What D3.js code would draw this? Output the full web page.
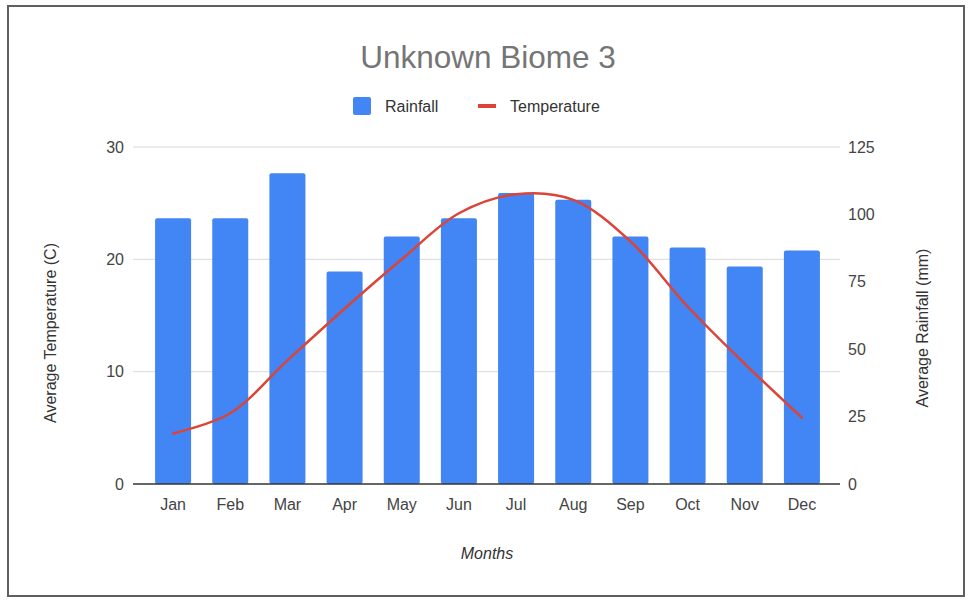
<!DOCTYPE html>
<html>
<head>
<meta charset="utf-8">
<script src="https://cdn.jsdelivr.net/npm/d3@7"></script>
<style>
  body { margin: 0; background: #fff; }
  text { font-family: "Liberation Sans", Arial, sans-serif; }
</style>
</head>
<body>
<div class="container"></div>
<script>
// Data
const months = ['Jan', 'Feb', 'Mar', 'Apr', 'May', 'Jun', 'Jul', 'Aug', 'Sep', 'Oct', 'Nov', 'Dec'];
const rainfall = [98.6, 98.6, 115.3, 78.8, 91.8, 98.6, 107.9, 105.4, 91.8, 87.7, 80.7, 86.6];
const temperature = [4.5, 6.3, 11.0, 15.6, 20.0, 24.1, 25.8, 25.3, 21.6, 15.8, 10.7, 5.9];
const tempTicks = [0, 10, 20, 30];
const rainTicks = [0, 25, 50, 75, 100, 125];

const W = 974, H = 605;
const plot = {left: 133, right: 840, top: 147, bottom: 484};

const svg = d3.select('.container')
  .append('svg')
  .attr('width', W)
  .attr('height', H);

// outer frame
svg.append('rect')
  .attr('x', 8).attr('y', 6)
  .attr('width', 956).attr('height', 590)
  .attr('fill', '#fff')
  .attr('stroke', '#5f5f5f')
  .attr('stroke-width', 2);

// Scales
const x = d3.scaleBand()
  .domain(months)
  .range([144.5, 830.5])
  .paddingInner(0.37)
  .paddingOuter(0.185);
const yTemp = d3.scaleLinear().domain([0, 30]).range([plot.bottom, plot.top]);
const yRain = d3.scaleLinear().domain([0, 125]).range([plot.bottom, plot.top]);

// gridlines
svg.append('g')
  .selectAll('line')
  .data(tempTicks.filter(d => d > 0))
  .enter().append('line')
    .attr('x1', plot.left).attr('x2', plot.right)
    .attr('y1', d => yTemp(d)).attr('y2', d => yTemp(d))
    .attr('stroke', '#d9d9d9')
    .attr('stroke-width', 1);

// bars
svg.append('g')
  .selectAll('rect')
  .data(months)
  .enter().append('rect')
    .attr('x', d => x(d))
    .attr('y', (d, i) => yRain(rainfall[i]))
    .attr('width', x.bandwidth())
    .attr('height', (d, i) => yRain(0) - yRain(rainfall[i]))
    .attr('rx', 2)
    .attr('fill', '#4285f4');

// baseline
svg.append('line')
  .attr('x1', plot.left).attr('x2', plot.right)
  .attr('y1', plot.bottom).attr('y2', plot.bottom)
  .attr('stroke', '#333')
  .attr('stroke-width', 1.5);

// temperature line
const line = d3.line()
  .x((d, i) => x(months[i]) + x.bandwidth() / 2)
  .y(d => yTemp(d))
  .curve(d3.curveCatmullRom.alpha(0.5));

svg.append('path')
  .datum(temperature)
  .attr('d', line)
  .attr('fill', 'none')
  .attr('stroke', '#db4437')
  .attr('stroke-width', 2.5)
  .attr('stroke-linecap', 'round');

// Axes
const leftAxis = d3.axisLeft(yTemp).tickValues(tempTicks).tickSize(0).tickPadding(9);
const gl = svg.append('g')
  .attr('transform', 'translate(' + plot.left + ',0)')
  .call(leftAxis);
gl.select('.domain').remove();
gl.selectAll('text')
  .attr('font-size', 16)
  .attr('fill', '#444')
  .attr('font-family', '"Liberation Sans", Arial, sans-serif');

const rightAxis = d3.axisRight(yRain).tickValues(rainTicks).tickSize(0).tickPadding(8);
const gr = svg.append('g')
  .attr('transform', 'translate(' + plot.right + ',0)')
  .call(rightAxis);
gr.select('.domain').remove();
gr.selectAll('text')
  .attr('font-size', 16)
  .attr('fill', '#444')
  .attr('font-family', '"Liberation Sans", Arial, sans-serif');

const bottomAxis = d3.axisBottom(x).tickSize(0).tickPadding(15);
const gb = svg.append('g')
  .attr('transform', 'translate(0,' + plot.bottom + ')')
  .call(bottomAxis);
gb.select('.domain').remove();
gb.selectAll('text')
  .attr('font-size', 16)
  .attr('fill', '#444')
  .attr('font-family', '"Liberation Sans", Arial, sans-serif');

// Title
svg.append('text')
  .attr('x', 488).attr('y', 68)
  .attr('text-anchor', 'middle')
  .attr('font-size', 31.5)
  .attr('fill', '#757575')
  .text('Unknown Biome 3');

// Legend
svg.append('rect')
  .attr('x', 353).attr('y', 97)
  .attr('width', 18).attr('height', 18)
  .attr('rx', 2)
  .attr('fill', '#4285f4');
svg.append('text')
  .attr('x', 385).attr('y', 112)
  .attr('font-size', 16)
  .attr('fill', '#333')
  .text('Rainfall');
svg.append('line')
  .attr('x1', 478).attr('x2', 496)
  .attr('y1', 106).attr('y2', 106)
  .attr('stroke', '#db4437')
  .attr('stroke-width', 4);
svg.append('text')
  .attr('x', 510).attr('y', 112)
  .attr('font-size', 16)
  .attr('fill', '#333')
  .text('Temperature');

// Axis titles
svg.append('text')
  .attr('transform', 'translate(56,' + 333 + ') rotate(-90)')
  .attr('text-anchor', 'middle')
  .attr('font-size', 16)
  .attr('fill', '#333')
  .text('Average Temperature (C)');
svg.append('text')
  .attr('transform', 'translate(928,' + 328 + ') rotate(-90)')
  .attr('text-anchor', 'middle')
  .attr('font-size', 16)
  .attr('fill', '#333')
  .text('Average Rainfall (mm)');
svg.append('text')
  .attr('x', 487).attr('y', 559)
  .attr('text-anchor', 'middle')
  .attr('font-size', 16)
  .attr('font-style', 'italic')
  .attr('fill', '#333')
  .text('Months');
</script>
</body>
</html>
